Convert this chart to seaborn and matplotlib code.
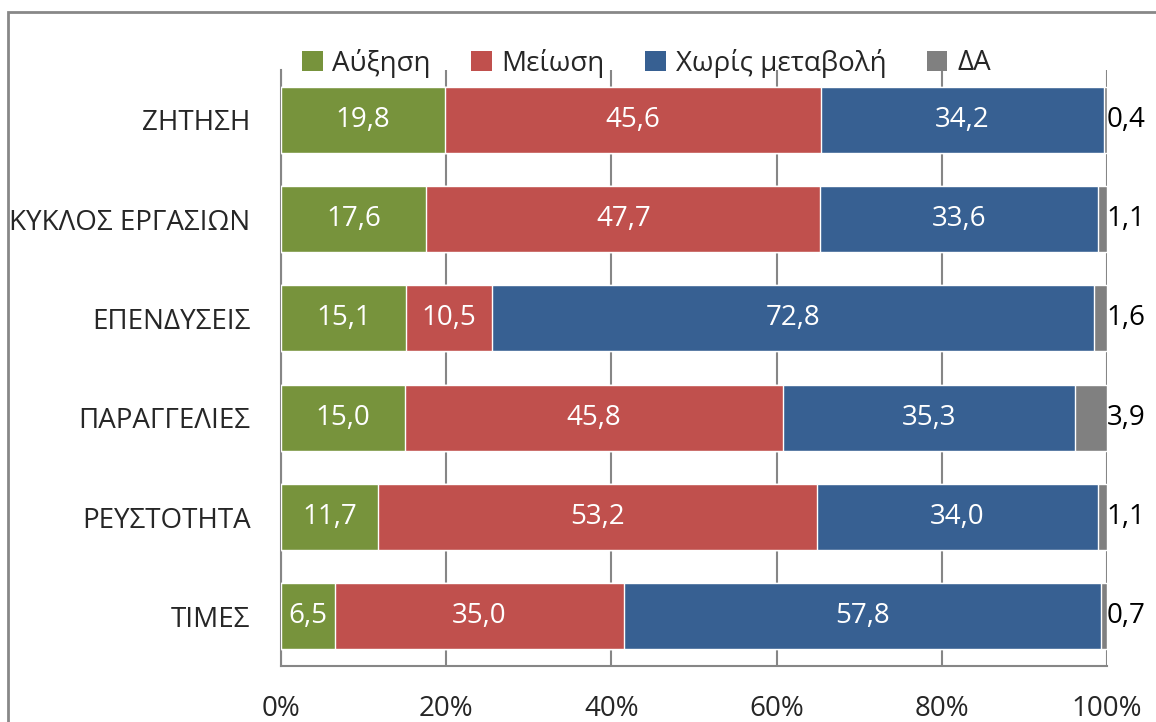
import numpy as np
import pandas as pd
import matplotlib
matplotlib.use("Agg")
import matplotlib.pyplot as plt
from matplotlib.patches import Patch, Rectangle
from matplotlib.ticker import FixedLocator
import seaborn as sns

# data (percent of firms)
categories = ["ΖΗΤΗΣΗ", "ΚΥΚΛΟΣ ΕΡΓΑΣΙΩΝ", "ΕΠΕΝΔΥΣΕΙΣ", "ΠΑΡΑΓΓΕΛΙΕΣ", "ΡΕΥΣΤΟΤΗΤΑ", "ΤΙΜΕΣ"]
series_names = ["Αύξηση", "Μείωση", "Χωρίς μεταβολή", "ΔΑ"]
increase = [19.8, 17.6, 15.1, 15.0, 11.7, 6.5]
decrease = [45.6, 47.7, 10.5, 45.8, 53.2, 35.0]
no_change = [34.2, 33.6, 72.8, 35.3, 34.0, 57.8]
no_answer = [0.4, 1.1, 1.6, 3.9, 1.1, 0.7]
x_ticks = [0, 20, 40, 60, 80, 100]

colors = ["#77933C", "#C0504D", "#376092", "#808080"]
label_colors = ["white", "white", "white", "black"]
grey = "#868686"

sns.set_style("white")
plt.rcParams["font.family"] = ["Open Sans", "DejaVu Sans"]
FS = 20

df = pd.DataFrame({"category": categories,
                   series_names[0]: increase,
                   series_names[1]: decrease,
                   series_names[2]: no_change,
                   series_names[3]: no_answer})
cum = df[series_names].cumsum(axis=1)

fig = plt.figure(figsize=(11.56, 7.22), dpi=100)
ax = fig.add_axes([281 / 1156, 1 - 666 / 722, (1107 - 281) / 1156, (666 - 70) / 722])

# stacked bars: draw cumulative totals from the widest down
for name, col in reversed(list(zip(series_names, colors))):
    sns.barplot(data=cum.assign(category=categories), x=name, y="category",
                orient="h", color=col, width=0.665, saturation=1, ax=ax, zorder=3)

# value labels
for i, name in enumerate(series_names):
    for j, cat in enumerate(categories):
        v = df.loc[j, name]
        txt = f"{v:.1f}".replace(".", ",")
        if name == "ΔΑ":
            ax.text(102.3, j, txt, ha="center", va="center", fontsize=FS,
                    color=label_colors[i], zorder=5, clip_on=False)
        else:
            ax.text(cum.loc[j, name] - v / 2, j, txt, ha="center", va="center",
                    fontsize=FS, color=label_colors[i], zorder=5)

ax.set_xlim(0, 100)
ax.set_ylim(len(categories) - 0.5, -0.5)
ax.set_xticks(x_ticks)
ax.set_xticklabels([f"{t}%" for t in x_ticks], fontsize=FS)
ax.set_xlabel("")
ax.set_ylabel("")
ax.tick_params(axis="y", which="major", length=0, labelsize=FS, pad=22)
ax.yaxis.set_minor_locator(FixedLocator(np.arange(-0.5, len(categories), 1.0)))
ax.tick_params(axis="y", which="minor", length=9, width=1.5, color=grey, direction="out")
ax.tick_params(axis="x", length=9, width=1.5, color=grey, direction="out", pad=12)
ax.xaxis.grid(True, color=grey, lw=1.5)
ax.set_axisbelow(True)
for s in ["top", "right"]:
    ax.spines[s].set_visible(False)
for s in ["left", "bottom"]:
    ax.spines[s].set_color(grey)
    ax.spines[s].set_linewidth(1.5)

handles = [Patch(facecolor=c, edgecolor="none") for c in colors]
fig.legend(handles, series_names, loc="center", bbox_to_anchor=(0.559, 1 - 63 / 722),
           ncol=4, frameon=False, fontsize=FS, handlelength=0.75, handleheight=0.75,
           handletextpad=0.35, columnspacing=1.45)

# outer chart border (clipped at right/bottom like the source)
fig.patches.append(Rectangle((8 / 1156, -0.1), 1.2, 1.1 - 12 / 722, transform=fig.transFigure,
                             fill=False, edgecolor="#888888", lw=2))

fig.savefig("out.png", dpi=100)
